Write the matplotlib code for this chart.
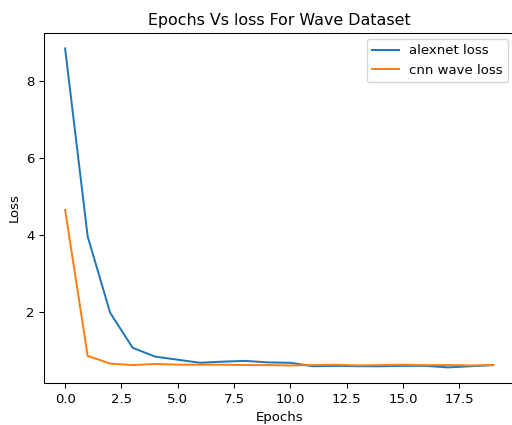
import matplotlib
matplotlib.use("Agg")
import matplotlib.pyplot as plt

epochs = list(range(20))
alexnet_loss = [8.85, 3.96, 1.97, 1.06, 0.83, 0.75, 0.67, 0.70, 0.72, 0.68,
                0.67, 0.58, 0.59, 0.58, 0.58, 0.59, 0.59, 0.55, 0.58, 0.61]
cnn_wave_loss = [4.65, 0.85, 0.65, 0.61, 0.64, 0.62, 0.62, 0.62, 0.61, 0.61,
                 0.60, 0.61, 0.62, 0.60, 0.61, 0.62, 0.61, 0.61, 0.60, 0.61]

# original looks like a default figure saved tight and scaled down a bit
fig = plt.figure(figsize=(512 / 95, 425 / 95), dpi=95)
plt.subplots_adjust(left=0.0854, right=1.005, top=0.9235, bottom=0.098)

plt.plot(epochs, alexnet_loss, label="alexnet loss")
plt.plot(epochs, cnn_wave_loss, label="cnn wave loss")
plt.title("Epochs Vs loss For Wave Dataset")
plt.xlabel("Epochs")
plt.ylabel("Loss")
plt.legend()

plt.savefig("out.png", dpi=95)
